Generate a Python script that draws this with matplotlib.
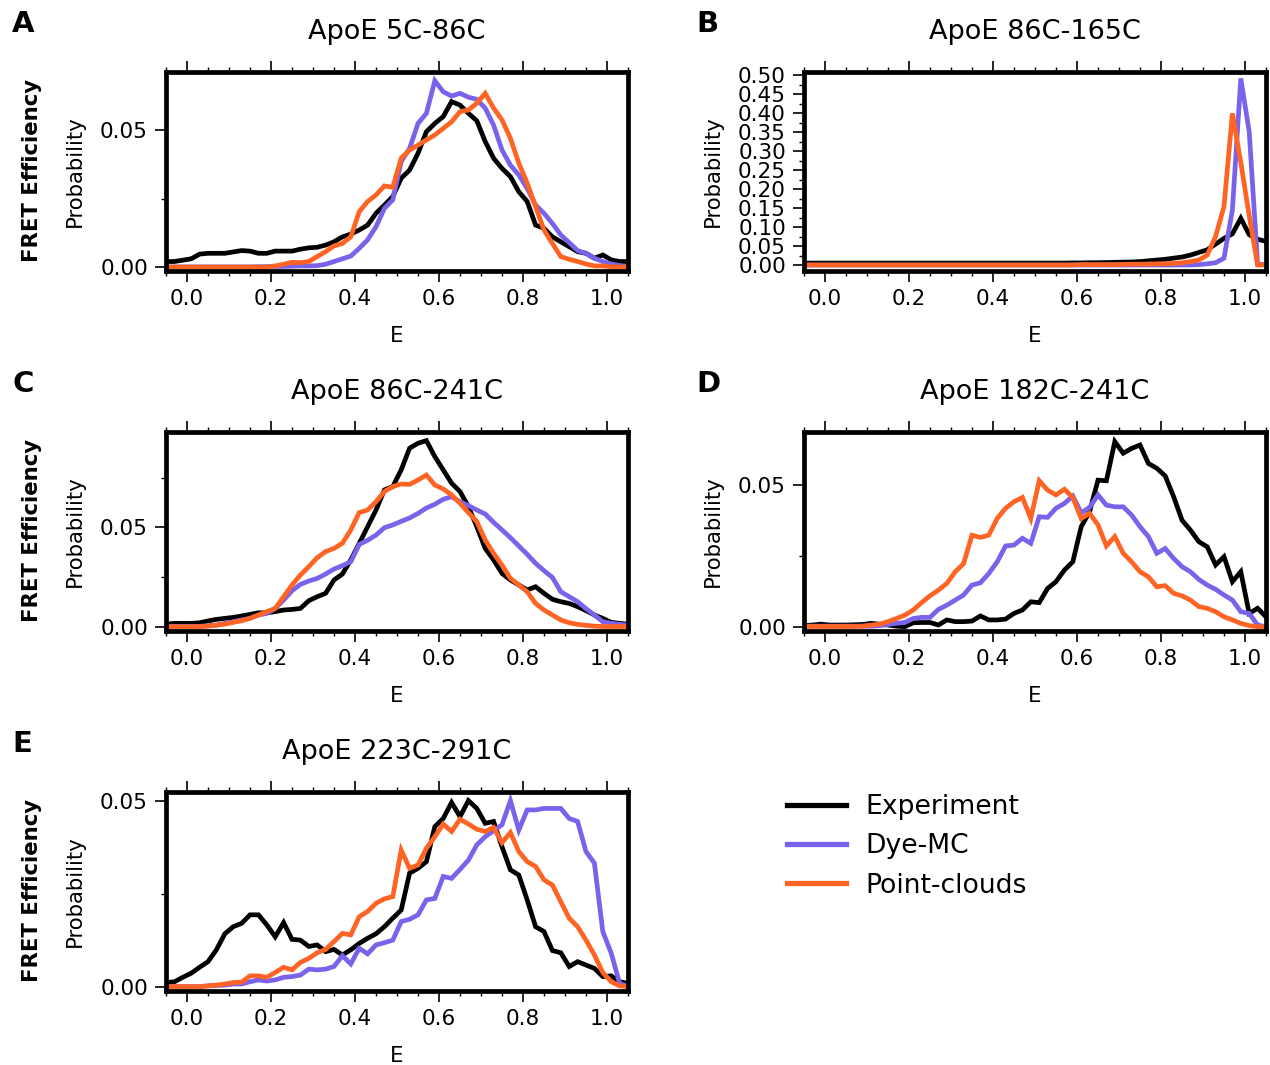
import numpy as np
import matplotlib
matplotlib.use("Agg")
import matplotlib.pyplot as plt
from matplotlib.ticker import MultipleLocator, FormatStrFormatter
from matplotlib.lines import Line2D

# Bin centres of the FRET efficiency histograms
E = [-0.05, -0.03, -0.01, 0.01, 0.03, 0.05, 0.07, 0.09, 0.11, 0.13,
     0.15, 0.17, 0.19, 0.21, 0.23, 0.25, 0.27, 0.29, 0.31, 0.33,
     0.35, 0.37, 0.39, 0.41, 0.43, 0.45, 0.47, 0.49, 0.51, 0.53,
     0.55, 0.57, 0.59, 0.61, 0.63, 0.65, 0.67, 0.69, 0.71, 0.73,
     0.75, 0.77, 0.79, 0.81, 0.83, 0.85, 0.87, 0.89, 0.91, 0.93,
     0.95, 0.97, 0.99, 1.01, 1.03, 1.05]

series_names = ["Experiment", "Dye-MC", "Point-clouds"]
titles = ["ApoE 5C-86C", "ApoE 86C-165C", "ApoE 86C-241C",
          "ApoE 182C-241C", "ApoE 223C-291C"]
panel_letters = ["A", "B", "C", "D", "E"]

# ---- Panel A: ApoE 5C-86C
A_exp = [0.002, 0.002, 0.0025, 0.003, 0.0047, 0.005, 0.005, 0.005, 0.0055, 0.006,
         0.0058, 0.005, 0.005, 0.0058, 0.0058, 0.0058, 0.0065, 0.007, 0.0072, 0.008,
         0.0092, 0.011, 0.012, 0.0135, 0.0153, 0.0196, 0.0226, 0.0257, 0.0324, 0.0354,
         0.0415, 0.0494, 0.0524, 0.0549, 0.0604, 0.0591, 0.0561, 0.0534, 0.0458, 0.0397,
         0.036, 0.033, 0.0275, 0.0239, 0.0153, 0.0141, 0.011, 0.0092, 0.0074, 0.0056,
         0.005, 0.0032, 0.0044, 0.0026, 0.002, 0.002]
A_dye = [0.0, 0.0, 0.0, 0.0, 0.0, 0.0, 0.0, 0.0, 0.0, 0.0,
         0.0, 0.0001, 0.0001, 0.0002, 0.0002, 0.0003, 0.0004, 0.0004, 0.0005, 0.001,
         0.002, 0.003, 0.004, 0.0068, 0.0099, 0.0147, 0.0214, 0.0245, 0.0385, 0.0433,
         0.0524, 0.0561, 0.068, 0.064, 0.0624, 0.0634, 0.062, 0.0612, 0.058, 0.0518,
         0.0427, 0.0372, 0.0336, 0.0287, 0.0226, 0.0196, 0.0159, 0.0117, 0.0089, 0.006,
         0.005, 0.0032, 0.002, 0.0011, 0.0005, 0.0001]
A_pc = [0.0, 0.0, 0.0, 0.0, 0.0, 0.0, 0.0, 0.0, 0.0, 0.0,
        0.0, 0.0, 0.0, 0.0004, 0.001, 0.0017, 0.0016, 0.002, 0.0038, 0.0056,
        0.0077, 0.0086, 0.011, 0.0202, 0.0239, 0.0263, 0.0296, 0.0291, 0.0397, 0.0427,
        0.0445, 0.0464, 0.0482, 0.0506, 0.053, 0.0567, 0.0573, 0.0598, 0.0634, 0.058,
        0.0537, 0.047, 0.0379, 0.0306, 0.022, 0.0135, 0.0086, 0.0038, 0.0028, 0.002,
        0.0011, 0.0004, 0.0004, 0.0001, 0.0, 0.0]

# ---- Panel B: ApoE 86C-165C
B_exp = [0.005, 0.005, 0.005, 0.005, 0.005, 0.005, 0.005, 0.005, 0.005, 0.005,
         0.005, 0.005, 0.005, 0.005, 0.005, 0.005, 0.005, 0.005, 0.005, 0.005,
         0.005, 0.005, 0.005, 0.005, 0.005, 0.005, 0.005, 0.005, 0.005, 0.005,
         0.005, 0.005, 0.0055, 0.0055, 0.006, 0.006, 0.0065, 0.007, 0.0075, 0.008,
         0.009, 0.011, 0.013, 0.015, 0.018, 0.021, 0.026, 0.033, 0.04, 0.055,
         0.07, 0.082, 0.123, 0.08, 0.068, 0.062]
B_dye = [0.0, 0.0, 0.0, 0.0, 0.0, 0.0, 0.0, 0.0, 0.0, 0.0,
         0.0, 0.0, 0.0, 0.0, 0.0, 0.0, 0.0, 0.0, 0.0, 0.0,
         0.0, 0.0, 0.0, 0.0, 0.0, 0.0, 0.0, 0.0, 0.0, 0.0,
         0.0, 0.0, 0.0, 0.0, 0.0, 0.0, 0.0, 0.0, 0.0, 0.0,
         0.0, 0.0, 0.0, 0.0, 0.0, 0.0, 0.0, 0.001, 0.003, 0.006,
         0.018, 0.145, 0.491, 0.351, 0.003, 0.0]
B_pc = [0.0, 0.0, 0.0, 0.0, 0.0, 0.0, 0.0, 0.0, 0.0, 0.0,
        0.0, 0.0, 0.0, 0.0, 0.0, 0.0, 0.0, 0.0, 0.0, 0.0,
        0.0, 0.0, 0.0, 0.0, 0.0, 0.0, 0.0, 0.0, 0.0, 0.0,
        0.0, 0.0, 0.0, 0.001, 0.001, 0.001, 0.001, 0.001, 0.0015, 0.002,
        0.002, 0.0025, 0.003, 0.0035, 0.004, 0.006, 0.009, 0.013, 0.026, 0.075,
        0.154, 0.399, 0.27, 0.13, 0.0, 0.0]

# ---- Panel C: ApoE 86C-241C
C_exp = [0.0013, 0.0017, 0.0017, 0.0017, 0.002, 0.0029, 0.0037, 0.0042, 0.0047, 0.0054,
         0.0062, 0.007, 0.007, 0.0076, 0.0084, 0.0087, 0.0092, 0.0131, 0.0151, 0.0168,
         0.0235, 0.0265, 0.0336, 0.0419, 0.0503, 0.0587, 0.0688, 0.0705, 0.0789, 0.0898,
         0.0923, 0.0936, 0.0856, 0.0789, 0.0722, 0.068, 0.0604, 0.0503, 0.0394, 0.0336,
         0.0268, 0.0235, 0.021, 0.0185, 0.0201, 0.0168, 0.0138, 0.0126, 0.0117, 0.0101,
         0.0081, 0.0059, 0.0042, 0.0022, 0.0017, 0.0013]
C_dye = [0.0002, 0.0002, 0.0002, 0.0002, 0.0002, 0.0005, 0.0008, 0.0017, 0.0025, 0.0034,
         0.0042, 0.0059, 0.0067, 0.0092, 0.0134, 0.0181, 0.0213, 0.023, 0.0243, 0.0265,
         0.029, 0.0307, 0.0327, 0.0414, 0.0435, 0.0461, 0.0498, 0.0512, 0.053, 0.0547,
         0.057, 0.0597, 0.0616, 0.0641, 0.0654, 0.0629, 0.0609, 0.0587, 0.0567, 0.0525,
         0.0487, 0.0448, 0.0406, 0.0364, 0.0319, 0.0282, 0.0248, 0.0176, 0.0151, 0.0126,
         0.0091, 0.0059, 0.0025, 0.0017, 0.0012, 0.0008]
C_pc = [0.0, 0.0, 0.0, 0.0, 0.0001, 0.0003, 0.0008, 0.0013, 0.0022, 0.003,
        0.0042, 0.0059, 0.0076, 0.0092, 0.0151, 0.021, 0.026, 0.0302, 0.0347, 0.0378,
        0.0394, 0.042, 0.0487, 0.0574, 0.0587, 0.0629, 0.068, 0.0705, 0.0718, 0.0716,
        0.0738, 0.0763, 0.0713, 0.0693, 0.0663, 0.0621, 0.0574, 0.0529, 0.0436, 0.0369,
        0.031, 0.0243, 0.021, 0.0176, 0.0117, 0.0084, 0.0059, 0.0034, 0.002, 0.0012,
        0.0007, 0.0003, 0.0001, 0.0001, 0.0001, 0.0001]

# ---- Panel D: ApoE 182C-241C
D_exp = [0.0004, 0.0006, 0.0009, 0.0006, 0.0006, 0.0006, 0.0007, 0.0008, 0.0012, 0.0009,
         0.0006, 0.0002, 0.0, 0.0014, 0.0015, 0.0015, 0.0006, 0.0024, 0.0018, 0.0018,
         0.002, 0.0038, 0.0024, 0.0024, 0.0027, 0.0047, 0.0059, 0.0088, 0.0085, 0.0135,
         0.0159, 0.02, 0.0229, 0.0353, 0.0406, 0.0517, 0.0515, 0.0653, 0.0612, 0.0629,
         0.0641, 0.0576, 0.0559, 0.0532, 0.0459, 0.0376, 0.0341, 0.03, 0.0282, 0.0218,
         0.0247, 0.0159, 0.0194, 0.0047, 0.0065, 0.0035]
D_dye = [0.0002, 0.0002, 0.0002, 0.0002, 0.0002, 0.0002, 0.0002, 0.0002, 0.0002, 0.0004,
         0.0008, 0.0012, 0.0015, 0.0029, 0.0033, 0.0033, 0.0061, 0.0076, 0.0094, 0.0112,
         0.0147, 0.0155, 0.0188, 0.0229, 0.0285, 0.0288, 0.0312, 0.0294, 0.0388, 0.0386,
         0.0418, 0.0435, 0.0461, 0.0402, 0.0421, 0.0465, 0.0429, 0.0423, 0.0423, 0.0394,
         0.0353, 0.0318, 0.0259, 0.0276, 0.0241, 0.0212, 0.0194, 0.0167, 0.0147, 0.0132,
         0.0112, 0.0094, 0.0053, 0.0047, 0.0006, 0.0]
D_pc = [0.0001, 0.0001, 0.0001, 0.0001, 0.0001, 0.0001, 0.0001, 0.0002, 0.0006, 0.0009,
        0.0018, 0.0029, 0.0041, 0.0059, 0.0085, 0.0109, 0.0129, 0.0153, 0.0194, 0.0223,
        0.0323, 0.0315, 0.0323, 0.0382, 0.0418, 0.0441, 0.0456, 0.0382, 0.0515, 0.0482,
        0.0465, 0.0485, 0.0456, 0.0382, 0.04, 0.0359, 0.0285, 0.0318, 0.0259, 0.0229,
        0.0194, 0.0176, 0.0141, 0.0145, 0.0118, 0.0109, 0.0094, 0.0071, 0.0065, 0.0053,
        0.0035, 0.0024, 0.0012, 0.0004, 0.0, 0.0]

# ---- Panel E: ApoE 223C-291C
E_exp = [0.0011, 0.0013, 0.0025, 0.0036, 0.0052, 0.0067, 0.0099, 0.0142, 0.0161, 0.017,
         0.0193, 0.0193, 0.0166, 0.0134, 0.0172, 0.0127, 0.0125, 0.0108, 0.0112, 0.0094,
         0.01, 0.0085, 0.0099, 0.0116, 0.013, 0.0142, 0.0161, 0.0184, 0.0206, 0.0305,
         0.0318, 0.0336, 0.043, 0.0452, 0.0495, 0.0457, 0.05, 0.0479, 0.0439, 0.0444,
         0.0376, 0.0314, 0.03, 0.0233, 0.0161, 0.0148, 0.0097, 0.0091, 0.0054, 0.0067,
         0.0058, 0.0049, 0.0027, 0.0029, 0.0013, 0.0009]
E_dye = [0.0, 0.0, 0.0, 0.0, 0.0, 0.0002, 0.0003, 0.0004, 0.0007, 0.0007,
         0.0013, 0.0018, 0.0015, 0.0018, 0.0025, 0.0027, 0.0031, 0.0047, 0.0045, 0.0047,
         0.0054, 0.0083, 0.0061, 0.0103, 0.0088, 0.0112, 0.0118, 0.0125, 0.0175, 0.0181,
         0.0193, 0.0233, 0.0237, 0.0296, 0.0291, 0.0315, 0.034, 0.0381, 0.0403, 0.0419,
         0.0435, 0.05, 0.0421, 0.0475, 0.0475, 0.0479, 0.0479, 0.0479, 0.0452, 0.0444,
         0.0363, 0.0332, 0.0148, 0.009, 0.0009, 0.0]
E_pc = [0.0, 0.0, 0.0, 0.0, 0.0, 0.0002, 0.0004, 0.0007, 0.0011, 0.0012,
        0.0029, 0.0029, 0.0025, 0.0038, 0.0052, 0.0045, 0.0065, 0.0076, 0.0091, 0.01,
        0.0121, 0.0143, 0.0139, 0.0188, 0.0202, 0.0224, 0.0236, 0.0242, 0.0367, 0.0318,
        0.0327, 0.0372, 0.0403, 0.0437, 0.0417, 0.045, 0.0437, 0.0423, 0.0417, 0.0428,
        0.0387, 0.0414, 0.0363, 0.0336, 0.0323, 0.0287, 0.0273, 0.0228, 0.0184, 0.0161,
        0.0125, 0.0085, 0.0038, 0.0013, 0.0002, 0.0]

panels = [(A_exp, A_dye, A_pc), (B_exp, B_dye, B_pc), (C_exp, C_dye, C_pc),
          (D_exp, D_dye, D_pc), (E_exp, E_dye, E_pc)]
ylims = [(-0.00135, 0.0713), (-0.015, 0.5087), (-0.002, 0.0981),
         (-0.0014, 0.0688), (-0.0011, 0.0524)]
colors = ["#000000", "#7B62EA", "#FF6424"]

W, H = 1270, 1065
fig = plt.figure(figsize=(W / 100, H / 100), dpi=100)

lefts = [166, 804]
tops = [71.7, 431.7, 791.7]
aw, ah = 462, 199

axes = []
for i in range(5):
    r, c = divmod(i, 2)
    l = lefts[c]
    t = tops[r]
    ax = fig.add_axes([l / W, 1 - (t + ah) / H, aw / W, ah / H])
    axes.append(ax)
    for s, col in zip(panels[i], colors):
        ax.plot(E, s, color=col, lw=3.4, solid_joinstyle="miter")
    ax.set_xlim(-0.05, 1.05)
    ax.set_ylim(*ylims[i])
    ax.xaxis.set_major_locator(MultipleLocator(0.2))
    ax.xaxis.set_minor_locator(MultipleLocator(0.05))
    ax.xaxis.set_major_formatter(FormatStrFormatter("%.1f"))
    ax.yaxis.set_major_locator(MultipleLocator(0.05))
    ax.yaxis.set_minor_locator(MultipleLocator(0.025))
    ax.yaxis.set_major_formatter(FormatStrFormatter("%.2f"))
    ax.tick_params(axis="x", which="both", top=True, bottom=True, direction="out")
    ax.tick_params(axis="both", which="major", length=8, width=1.2, labelsize=15.5, pad=5)
    ax.tick_params(axis="both", which="minor", length=3.5, width=1.0)
    for sp in ax.spines.values():
        sp.set_linewidth(3.4)
    ax.set_xlabel("E", fontsize=15.3)
    ax.xaxis.set_label_coords(0.5, -0.28)
    ax.set_ylabel("Probability", fontsize=15.3)
    ax.yaxis.set_label_coords(-0.175, 0.5)
    ax.text(0.5, 1.164, titles[i], transform=ax.transAxes, ha="center",
            va="baseline", fontsize=19.5)
    # panel letter
    lx = 12 if c == 0 else 696
    fig.text(lx / W, 1 - (t - 40) / H, panel_letters[i], fontsize=21,
             fontweight="bold", ha="left", va="baseline")
    if c == 0:
        fig.text(32 / W, 1 - (t + ah / 2 - 1) / H, "FRET Efficiency", rotation=90,
                 fontsize=15.3, fontweight="bold", ha="center", va="center")

handles = [Line2D([], [], color=col, lw=3.8) for col in colors]
fig.legend(handles, series_names, loc="upper left",
           bbox_to_anchor=(787 / W, 1 - 794 / H), frameon=False, fontsize=19.2,
           handlelength=2.2, handletextpad=0.75, labelspacing=0.5, borderpad=0,
           borderaxespad=0)

fig.savefig("out.png", dpi=100)
